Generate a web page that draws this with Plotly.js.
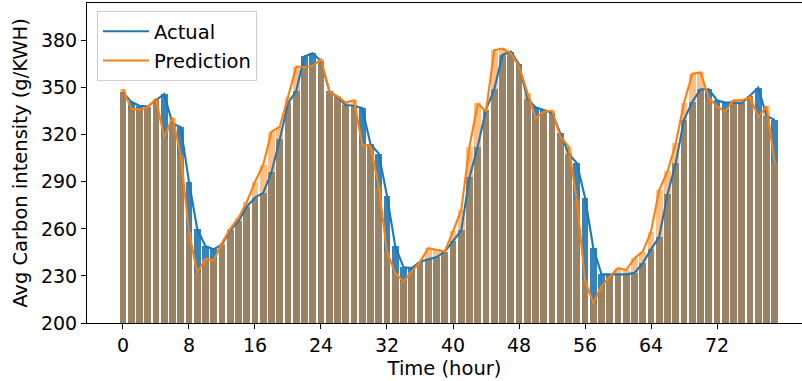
<!DOCTYPE html>
<html>
<head>
<meta charset="utf-8">
<script src="https://cdn.plot.ly/plotly-3.0.1.min.js"></script>
<style>html,body{margin:0;padding:0;background:#fff;overflow:hidden}</style>
</head>
<body>
<div id="chart" style="width:802px;height:381px"></div>
<script>
const hours = Array.from({length: 80}, (_, i) => i);
const actual = [
  347, 341, 338.5, 338, 342, 346, 327, 325, 290, 260,
  249, 247, 250, 259, 265, 274, 280, 283, 296, 317,
  340, 348, 370, 372, 367, 348, 344, 339, 338.5, 337,
  314, 308, 281, 249, 235.5, 235, 239, 240.5, 242, 245.5,
  252, 259, 293, 312.5, 336, 349, 371, 373, 365, 343,
  337.5, 335.5, 334, 321, 308, 302, 280, 248, 231, 231,
  231, 231, 232, 238, 247, 255, 282, 302, 329.5, 341,
  349, 349, 342, 340.5, 340.5, 340, 345, 350, 332, 329.5
];
const prediction = [
  349, 336.5, 336, 337.5, 343, 318, 331, 307, 258, 232,
  241, 240, 251, 260, 267, 277, 290, 301, 322, 325,
  344, 363.5, 363, 364, 368, 347.5, 344.5, 340.5, 342, 313.5,
  313, 287, 245.5, 231.7, 226.5, 232.7, 239, 247.7, 246.6, 245.5,
  258.5, 272, 312.5, 340, 335, 374, 375, 372, 363.6, 346.6,
  330.6, 334.8, 335.3, 319, 312.5, 278.5, 227.4, 212.6, 223.2, 229.6,
  234.9, 233.8, 241.3, 245.5, 258.3, 284.9, 296.6, 314.7, 340.2, 358.9,
  359.7, 343.4, 338.1, 334.8, 341.9, 341.9, 344, 331.3, 338.1, 301.9
];
const xTicks = [0, 8, 16, 24, 32, 40, 48, 56, 64, 72];
const yTicks = [200, 230, 260, 290, 320, 350, 380];

const FONT = 'DejaVu Sans, sans-serif';
const traces = [
  {type: 'bar', x: hours, y: actual, width: 0.8, marker: {color: 'rgba(31,119,180,0.9)'}, showlegend: false, hoverinfo: 'skip'},
  {type: 'bar', x: hours, y: prediction, width: 0.8, marker: {color: 'rgba(255,127,14,0.5)'}, showlegend: false, hoverinfo: 'skip'},
  {type: 'scatter', mode: 'lines', x: hours, y: actual, name: 'Actual', legendgroup: 'a', line: {color: '#1f77b4', width: 2.1}},
  {type: 'scatter', mode: 'lines', x: hours, y: prediction, name: 'Prediction', legendgroup: 'b', line: {color: '#ff7f0e', width: 2.1}}
];
const layout = {
  width: 802, height: 381,
  margin: {l: 87, r: 0, t: 3, b: 58},
  paper_bgcolor: '#fff', plot_bgcolor: '#fff',
  barmode: 'overlay', bargap: 0,
  font: {family: FONT, size: 19, color: '#000'},
  xaxis: {
    range: [-4.36, 82.3], tickvals: xTicks, ticktext: xTicks.map(String),
    showgrid: false, zeroline: false, showline: true, mirror: true,
    linecolor: '#000', linewidth: 1, ticks: 'outside', ticklen: 5, tickcolor: '#000',
    tickfont: {family: FONT, size: 19},
    title: {text: 'Time (hour)', font: {family: FONT, size: 19.5}, standoff: 6}
  },
  yaxis: {
    range: [200, 404], tickvals: yTicks, ticktext: yTicks.map(String),
    showgrid: false, zeroline: false, showline: true, mirror: false,
    linecolor: '#000', linewidth: 1, ticks: 'outside', ticklen: 5, tickcolor: '#000',
    tickfont: {family: FONT, size: 19},
    title: {text: 'Avg Carbon intensity (g/KWH)', font: {family: FONT, size: 19.5}, standoff: 8}
  },
  legend: {
    x: 0.014, y: 0.975, xanchor: 'left', yanchor: 'top',
    bgcolor: 'rgba(255,255,255,0.8)', bordercolor: '#cccccc', borderwidth: 1,
    font: {family: FONT, size: 19.5, color: '#000'},
    itemwidth: 46, tracegroupgap: 1, traceorder: 'grouped'
  },
  showlegend: true
};
Plotly.newPlot('chart', traces, layout, {staticPlot: true, displayModeBar: false});
</script>
</body>
</html>
